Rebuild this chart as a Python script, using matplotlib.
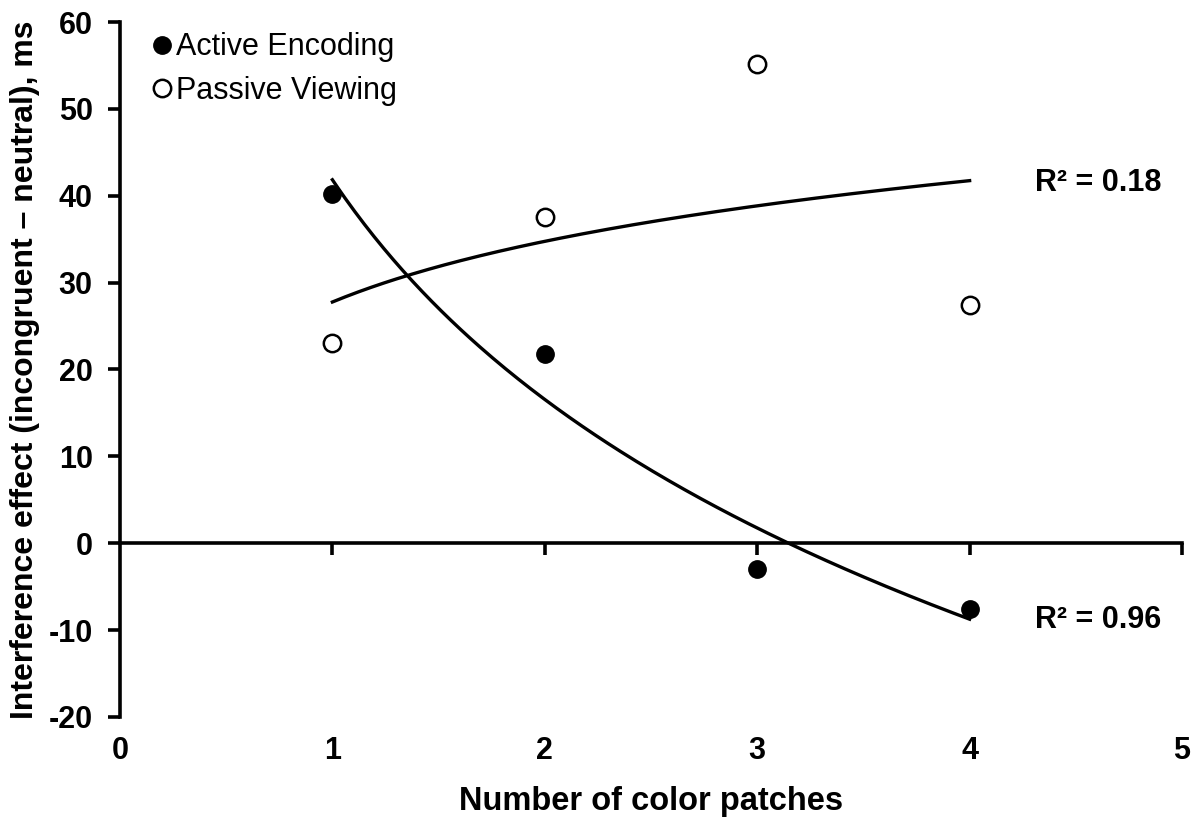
import matplotlib.pyplot as plt
import numpy as np

plt.rcParams['font.family'] = ['Liberation Sans', 'DejaVu Sans']
plt.rcParams['axes.unicode_minus'] = False

patches = np.array([1, 2, 3, 4])
active = np.array([40.2, 21.8, -3.0, -7.6])    # Active Encoding
passive = np.array([23.0, 37.5, 55.2, 27.4])   # Passive Viewing
x_ticks = [0, 1, 2, 3, 4, 5]
y_ticks = [-20, -10, 0, 10, 20, 30, 40, 50, 60]

fig = plt.figure(figsize=(12.01, 8.21), dpi=100)
ax = fig.add_axes([0.0999, 0.1267, 0.8843, 0.8465])

# logarithmic trendlines (as in Excel)
xs = np.linspace(1, 4, 200)
r2 = []
for y in (active, passive):
    a, b = np.polyfit(np.log(patches), y, 1)
    fit = a * np.log(patches) + b
    r2.append(1 - np.sum((y - fit) ** 2) / np.sum((y - y.mean()) ** 2))
    ax.plot(xs, a * np.log(xs) + b, color='black', lw=2.4, zorder=2)

ax.plot(patches, active, 'o', ms=12.5, color='black', mec='black',
        label='Active Encoding', zorder=3)
ax.plot(patches, passive, 'o', ms=12.5, mfc='white', mec='black', mew=1.8,
        label='Passive Viewing', zorder=3)

ax.text(4.31, 41.5, 'R² = %.2f' % r2[1], fontsize=22, fontweight='bold', va='center')
ax.text(4.31, -8.8, 'R² = %.2f' % r2[0], fontsize=22, fontweight='bold', va='center')

ax.set_xlim(0, 5)
ax.set_ylim(-20, 60)
ax.set_xticks(x_ticks)
ax.set_yticks(y_ticks)
for s in ('top', 'right', 'bottom'):
    ax.spines[s].set_visible(False)
ax.spines['left'].set_linewidth(2.6)
ax.tick_params(axis='x', length=0, pad=14, labelsize=22)
ax.tick_params(axis='y', direction='out', length=8.6, width=2.6, pad=11, labelsize=22)
for lab in ax.get_xticklabels() + ax.get_yticklabels():
    lab.set_fontweight('bold')

# zero line with tick marks
sec = ax.secondary_xaxis(0.25)
sec.set_xticks(x_ticks[1:])
sec.spines['bottom'].set_linewidth(2.6)
sec.tick_params(direction='out', length=8.6, width=2.6, labelbottom=False)

ax.set_xlabel('Number of color patches', fontsize=23.5, fontweight='bold', labelpad=14)
ax.set_ylabel('Interference effect (incongruent – neutral), ms', fontsize=23,
              fontweight='bold', labelpad=6)

ax.legend(loc='upper left', bbox_to_anchor=(0.031, 0.985), frameon=False, fontsize=22,
          handlelength=0.6, handletextpad=0.15, labelspacing=0.45, borderaxespad=0,
          borderpad=0)

plt.savefig('out.png', dpi=100)
